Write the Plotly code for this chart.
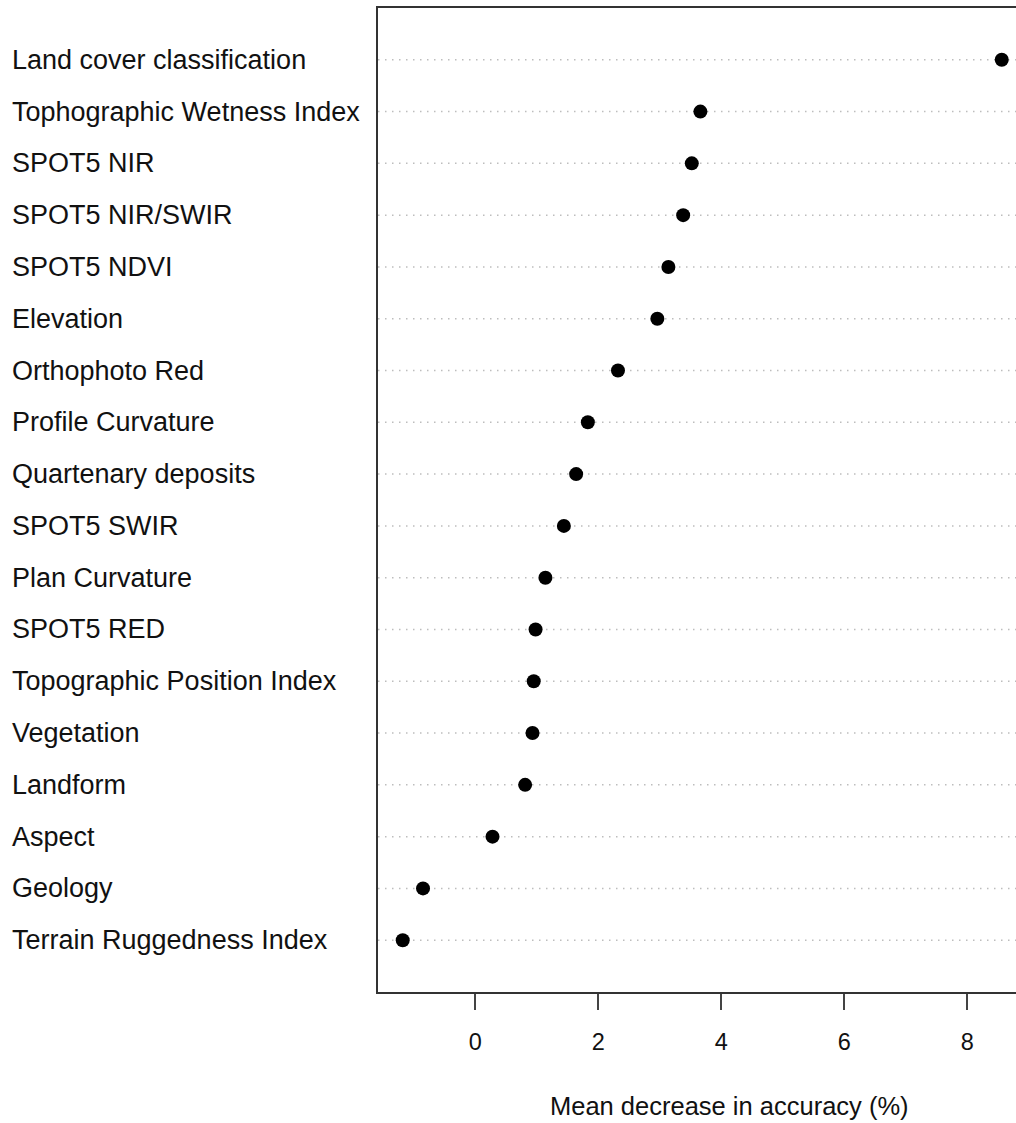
import plotly.graph_objects as go

# Data (top to bottom as displayed)
variables = [
    "Land cover classification",
    "Tophographic Wetness Index",
    "SPOT5 NIR",
    "SPOT5 NIR/SWIR",
    "SPOT5 NDVI",
    "Elevation",
    "Orthophoto Red",
    "Profile Curvature",
    "Quartenary deposits",
    "SPOT5 SWIR",
    "Plan Curvature",
    "SPOT5 RED",
    "Topographic Position Index",
    "Vegetation",
    "Landform",
    "Aspect",
    "Geology",
    "Terrain Ruggedness Index",
]
mean_decrease = [8.56, 3.66, 3.52, 3.38, 3.14, 2.96, 2.32, 1.83, 1.64, 1.44,
                 1.14, 0.98, 0.95, 0.93, 0.81, 0.28, -0.85, -1.18]
x_ticks = [0, 2, 4, 6, 8]
x_title = "Mean decrease in accuracy (%)"

# bottom-to-top order for the categorical axis
cat_order = list(reversed(variables))

FONT = "Liberation Sans, Arial, Helvetica, sans-serif"

fig = go.Figure()

fig.add_trace(go.Scatter(
    x=mean_decrease,
    y=variables,
    mode="markers",
    marker=dict(color="black", size=14, line=dict(width=0)),
    showlegend=False,
    hoverinfo="x+y",
))

shapes = []
annotations = []
for v in variables:
    shapes.append(dict(
        type="line", xref="paper", x0=0, x1=1, yref="y", y0=v, y1=v,
        line=dict(color="#bdbdbd", width=1.5, dash="1.5px,5.5px"),
        layer="below",
    ))
    annotations.append(dict(
        text=v, xref="paper", x=(10 - 378) / 638, xanchor="left",
        yref="y", y=v, yanchor="middle", showarrow=False,
        font=dict(family=FONT, size=27, color="#111"),
    ))

annotations.append(dict(
    text=x_title, xref="paper", x=(729.5 - 378) / 638, xanchor="center",
    yref="paper", y=(992 - 1106) / 984, yanchor="middle", showarrow=False,
    font=dict(family=FONT, size=25.5, color="#111"),
))

fig.update_layout(
    width=1016, height=1123,
    margin=dict(l=378, r=0, t=8, b=131, pad=0),
    paper_bgcolor="white", plot_bgcolor="white",
    shapes=shapes, annotations=annotations,
    xaxis=dict(
        range=[-(475.3 - 378) / 61.5, (1016 - 475.3) / 61.5],
        tickvals=x_ticks, ticktext=[str(t) for t in x_ticks],
        ticks="outside", ticklen=16, tickwidth=1.5, tickcolor="#444",
        showline=True, linecolor="#333", linewidth=1.5, mirror=True,
        showgrid=False, zeroline=False,
        tickfont=dict(family=FONT, size=23.5, color="#111"),
        ticklabelstandoff=12,
    ),
    yaxis=dict(
        type="category", categoryorder="array", categoryarray=cat_order,
        range=[-1, len(variables)],
        showticklabels=False, ticks="",
        showline=True, linecolor="#333", linewidth=1.5, mirror=False,
        showgrid=False, zeroline=False,
    ),
)

fig.write_html(
    "out.html",
    config={"displayModeBar": False},
    post_script="document.body.style.margin='0';document.body.style.overflow='hidden';",
)
